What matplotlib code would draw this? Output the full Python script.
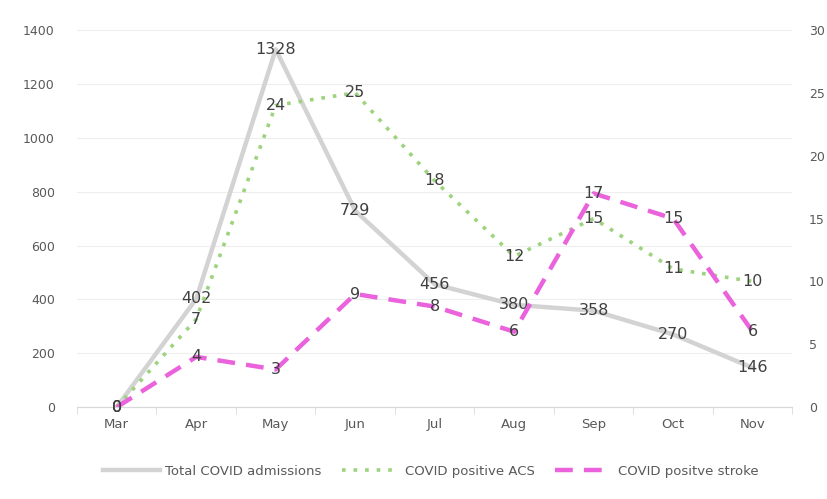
import matplotlib.pyplot as plt

months = ["Mar", "Apr", "May", "Jun", "Jul", "Aug", "Sep", "Oct", "Nov"]
total_admissions = [0, 402, 1328, 729, 456, 380, 358, 270, 146]
acs_positive = [0, 7, 24, 25, 18, 12, 15, 11, 10]
stroke_positive = [0, 4, 3, 9, 8, 6, 17, 15, 6]

grey = "#d3d3d3"
green = "#9dd37e"
pink = "#ea62dc"
text_col = "#404040"
tick_col = "#595959"

fig = plt.figure(figsize=(8.28, 4.99), dpi=100)
ax = fig.add_axes([0.093, 0.184, 0.864, 0.756])
ax2 = ax.twinx()

x = list(range(len(months)))

ax.plot(x, total_admissions, color=grey, lw=3.2, label="Total COVID admissions", zorder=2)
l2, = ax2.plot(x, acs_positive, color=green, lw=2.6, linestyle=(0, (1, 2.2)),
               label="COVID positive ACS", zorder=3)
l3, = ax2.plot(x, stroke_positive, color=pink, lw=3.2, linestyle=(0, (4, 2.5)),
               label="COVID positve stroke", zorder=3)

for xi, v in zip(x, total_admissions):
    ax.text(xi, v, str(v), ha="center", va="center", fontsize=11.5, color=text_col, zorder=5)
for xi, v in zip(x, acs_positive):
    ax2.text(xi, v, str(v), ha="center", va="center", fontsize=11.5, color=text_col, zorder=5)
for xi, v in zip(x, stroke_positive):
    ax2.text(xi, v, str(v), ha="center", va="center", fontsize=11.5, color=text_col, zorder=5)

ax.set_xlim(-0.5, len(months) - 0.5)
ax.set_ylim(0, 1400)
ax.set_yticks(range(0, 1401, 200))
ax2.set_ylim(0, 30)
ax2.set_yticks(range(0, 31, 5))

ax.set_xticks(x)
ax.set_xticklabels(months)
ax.set_xticks([i - 0.5 for i in range(len(months) + 1)], minor=True)
ax.tick_params(axis="x", which="major", length=0, pad=8, labelsize=9.5, labelcolor=tick_col)
ax.tick_params(axis="x", which="minor", length=5, color="#d9d9d9")
ax.tick_params(axis="y", length=0, pad=16, labelsize=9, labelcolor=tick_col)
ax2.tick_params(axis="y", length=0, pad=12, labelsize=9, labelcolor=tick_col)

ax.grid(axis="y", color="#eeeeee", lw=0.8)
ax.set_axisbelow(True)
for a in (ax, ax2):
    for s in ("top", "left", "right"):
        a.spines[s].set_visible(False)
    a.spines["bottom"].set_color("#d9d9d9")

h1, lab1 = ax.get_legend_handles_labels()
fig.legend(h1 + [l2, l3], lab1 + [l2.get_label(), l3.get_label()],
           loc="center", bbox_to_anchor=(0.52, 0.055), ncol=3, frameon=False,
           fontsize=9.5, labelcolor=tick_col, handlelength=4.3, handletextpad=0.4,
           columnspacing=1.6)

fig.savefig("out.png", dpi=100)
